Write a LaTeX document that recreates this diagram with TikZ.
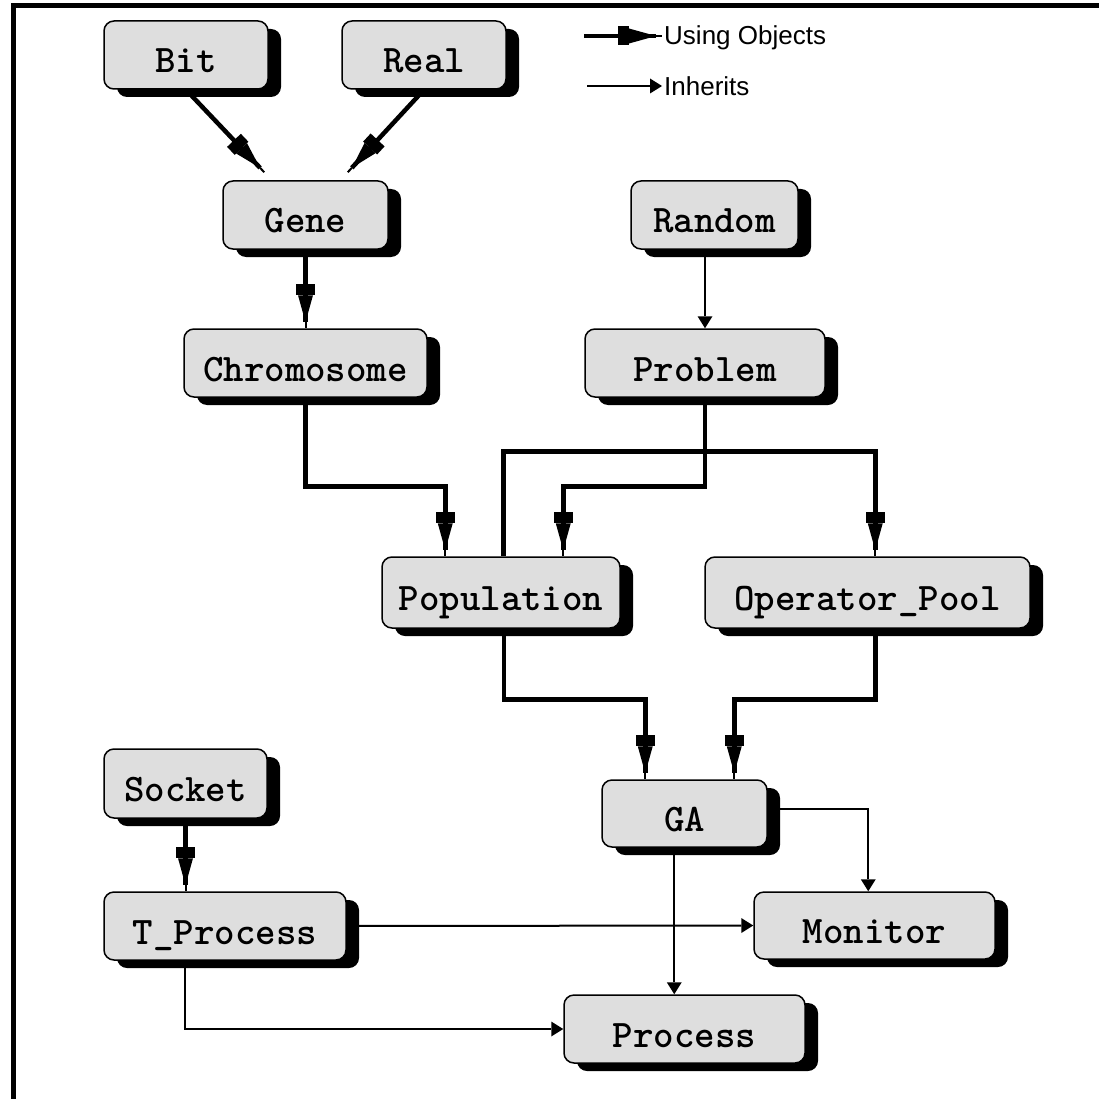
\documentclass[tikz,border=0pt]{standalone}
\usepackage{fontspec}
\newfontfamily\legfont{Liberation Sans}
\usetikzlibrary{arrows.meta,shadows,calc}
\begin{document}
\begin{tikzpicture}[x=1pt,y=-1pt,
  box/.style={draw=black, line width=1.5pt, fill=black!13, rounded corners=10pt,
    general shadow={fill=black, shadow xshift=13pt, shadow yshift=-8pt},
    font=\ttfamily\bfseries\fontsize{39}{44}\selectfont,
    text height=36pt, text depth=0pt, inner sep=0pt, minimum height=68pt},
  usearrow/.style={line width=4.5pt, line join=miter,
    -{Rectangle[length=11pt,width=19pt,line width=0pt] Triangle[length=27pt,width=15pt,line width=0pt] Rectangle[length=6pt,width=2pt,line width=0pt]}},
  inharrow/.style={line width=2pt,-{Triangle[length=12pt,width=15pt,line width=0pt]}},
  legtext/.style={font=\legfont\fontsize{26}{30}\selectfont, anchor=west, inner sep=2pt,
    text height=18pt, text depth=0pt}]
\useasboundingbox (0,0) rectangle (1099,1099);
\fill[white] (0,0) rectangle (1099,1099);
\draw[line width=5pt, line join=miter] (13.5,1099) -- (13.5,5.5) -- (1099,5.5);

% nodes
\node[box,minimum width=164pt] (bit) at (186,55) {Bit};
\node[box,minimum width=164pt] (real) at (424,55) {Real};
\node[box,minimum width=165pt] (gene) at (305.5,215) {Gene};
\node[box,minimum width=167pt] (random) at (714.5,215) {Random};
\node[box,minimum width=243pt] (chrom) at (305.5,363) {Chromosome};
\node[box,minimum width=240pt] (problem) at (705,363) {Problem};
\node[box,minimum width=238pt,minimum height=71pt] (pop) at (501,592.5) {Population};
\node[box,minimum width=325pt,minimum height=71pt] (oppool) at (867.5,592.5) {Operator\_Pool};
\node[box,minimum width=163pt,minimum height=69pt] (socket) at (185.5,783.5) {Socket};
\node[box,minimum width=242pt] (tproc) at (225,926) {T\_Process};
\node[box,minimum width=165pt,minimum height=67pt] (ga) at (684.5,813.5) {GA};
\node[box,minimum width=241pt,minimum height=67pt] (monitor) at (874.5,925.5) {Monitor};
\node[box,minimum width=241pt] (process) at (684.5,1029) {Process};

% legend
\node[legtext] (leguse) at (662,36) {Using Objects};
\node[legtext] (leginh) at (662,87) {Inherits};
\coordinate (leguses) at (584,36);
\coordinate (leginhs) at (587,86);
\draw[usearrow] (leguses) -- (leguse.west |- leguses);
\draw[inharrow] (leginhs) -- (leginh.west |- leginhs);

% connectors
\draw[usearrow] (bit.south) -- ($(gene.north west)+(42,-8)$);
\draw[usearrow] (real.south) -- ($(gene.north east)+(-41,-8)$);
\draw[usearrow] (gene.south) -- (chrom.north);
\draw[inharrow] (random.south -| problem.north) -- (problem.north);
\draw[usearrow] (chrom.south) |- ($(pop.north west)+(64,-70)$) -- ($(pop.north west)+(64,0)$);
\draw[usearrow] (problem.south) |- ($(pop.north west)+(182,-70)$) -- ($(pop.north west)+(182,0)$);
\draw[usearrow] ($(pop.north west)+(122,0)$) |- ($(oppool.north west)+(171,-105)$) -- ($(oppool.north west)+(171,0)$);
\draw[usearrow] ($(pop.south)+(3,0)$) |- ($(ga.north west)+(44,-80)$) -- ($(ga.north west)+(44,0)$);
\draw[usearrow] ($(oppool.south west)+(171,0)$) |- ($(ga.north west)+(133,-80)$) -- ($(ga.north west)+(133,0)$);
\draw[usearrow] (socket.south) -- (socket.south |- tproc.north);
\draw[inharrow] (tproc.east) -- (monitor.west);
\draw[inharrow] ($(ga.east)+(0,-4.5)$) -| ($(monitor.north west)+(115,0)$);
\coordinate (gaout) at ($(ga.south west)+(73,0)$);
\draw[inharrow] (gaout) -- (gaout |- process.north);
\draw[inharrow] ($(tproc.south west)+(82,0)$) |- (process.west);
\end{tikzpicture}
\end{document}
